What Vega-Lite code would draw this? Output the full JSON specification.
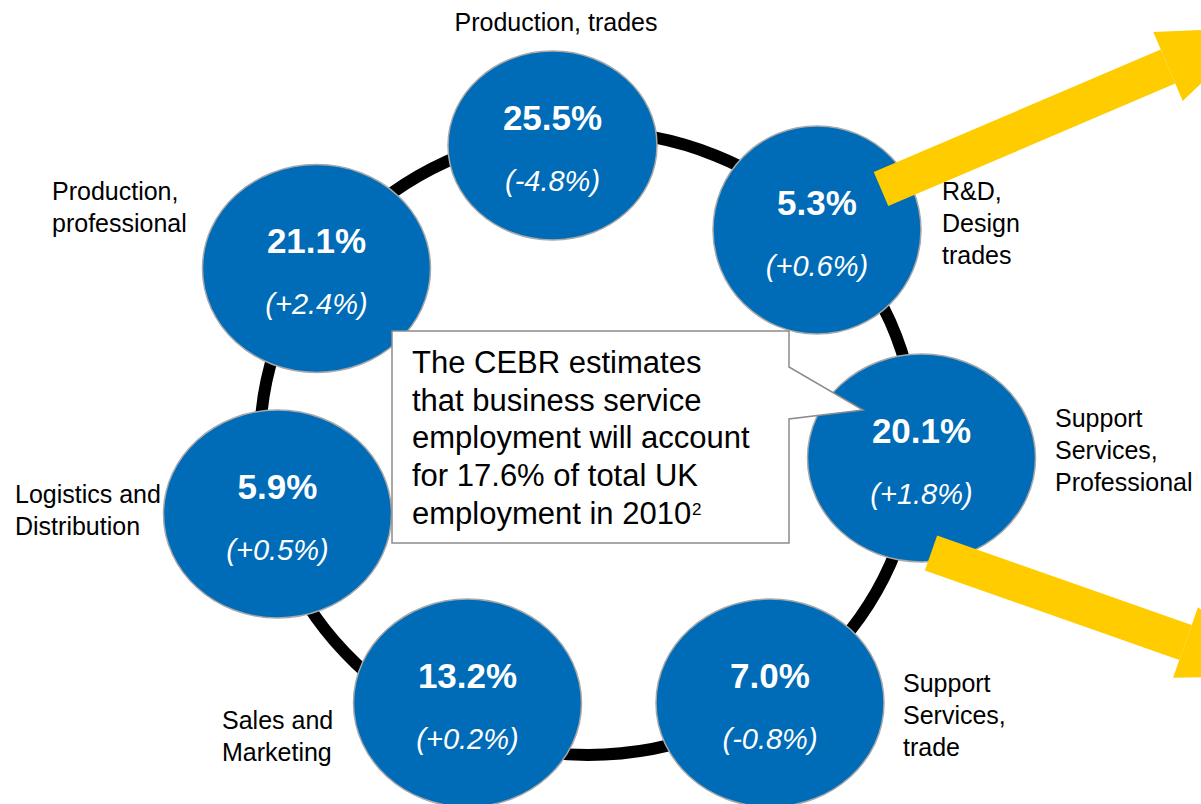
{
  "$schema": "https://vega.github.io/schema/vega-lite/v6.json",
  "width": 1201,
  "height": 804,
  "autosize": {"type": "none"},
  "padding": 0,
  "background": "white",
  "config": {"view": {"stroke": null}, "font": "Liberation Sans"},
  "datasets": {
    "sectors": [
      {"sector": "Production, trades", "share": "25.5%", "change": "(-4.8%)", "x": 552.5, "y": 145.5},
      {"sector": "R&D, Design trades", "share": "5.3%", "change": "(+0.6%)", "x": 817, "y": 230},
      {"sector": "Support Services, Professional", "share": "20.1%", "change": "(+1.8%)", "x": 921.5, "y": 458},
      {"sector": "Support Services, trade", "share": "7.0%", "change": "(-0.8%)", "x": 770, "y": 703},
      {"sector": "Sales and Marketing", "share": "13.2%", "change": "(+0.2%)", "x": 467.5, "y": 703},
      {"sector": "Logistics and Distribution", "share": "5.9%", "change": "(+0.5%)", "x": 277.5, "y": 514},
      {"sector": "Production, professional", "share": "21.1%", "change": "(+2.4%)", "x": 316.5, "y": 268.5}
    ],
    "labels": [
      {"label": "Production, trades", "x": 556, "y": 31, "pos": "top"},
      {"label": "R&D,\nDesign\ntrades", "x": 942, "y": 200, "pos": "side"},
      {"label": "Support\nServices,\nProfessional", "x": 1055, "y": 427, "pos": "side"},
      {"label": "Support\nServices,\ntrade", "x": 903, "y": 692, "pos": "side"},
      {"label": "Sales and\nMarketing", "x": 222, "y": 729, "pos": "side"},
      {"label": "Logistics and\nDistribution", "x": 15, "y": 503, "pos": "side"},
      {"label": "Production,\nprofessional", "x": 52, "y": 200, "pos": "side"}
    ],
    "arrows": [
      {"arrow": "upper", "x": 881, "y": 189, "bx": 1168, "by": 66.5, "heading": -23.1},
      {"arrow": "lower", "x": 931, "y": 553, "bx": 1185.5, "by": 642.5, "heading": 19.4}
    ]
  },
  "encoding": {
    "x": {"field": "x", "type": "quantitative", "scale": {"domain": [0, 1201], "nice": false, "zero": false}, "axis": null},
    "y": {"field": "y", "type": "quantitative", "scale": {"domain": [0, 804], "reverse": true, "nice": false, "zero": false}, "axis": null}
  },
  "layer": [
    {
      "data": {"values": [{"ring": "cycle", "x": 588, "y": 443}]},
      "mark": {"type": "point", "shape": "M -1 0 A 1 0.951 0 1 1 1 0 A 1 0.951 0 1 1 -1 0 Z", "size": 430336, "filled": false, "stroke": "#000000", "strokeWidth": 12, "opacity": 1}
    },
    {
      "data": {"name": "sectors"},
      "transform": [{"filter": "datum.sector !== 'Production, trades' && datum.sector !== 'R&D, Design trades'"}],
      "mark": {"type": "point", "shape": "M -1 0 A 1 0.912 0 1 1 1 0 A 1 0.912 0 1 1 -1 0 Z", "size": 51984, "filled": true, "fill": "#006BB6", "stroke": "#A8A8A8", "strokeWidth": 1.5, "opacity": 1}
    },
    {
      "data": {"name": "sectors"},
      "transform": [{"filter": "datum.sector === 'Production, trades'"}],
      "mark": {"type": "point", "shape": "M -1 0 A 1 0.904 0 1 1 1 0 A 1 0.904 0 1 1 -1 0 Z", "size": 43681, "filled": true, "fill": "#006BB6", "stroke": "#A8A8A8", "strokeWidth": 1.5, "opacity": 1}
    },
    {
      "data": {"name": "sectors"},
      "transform": [{"filter": "datum.sector === 'R&D, Design trades'"}],
      "mark": {"type": "point", "shape": "M -1 0 A 1 1 0 1 1 1 0 A 1 1 0 1 1 -1 0 Z", "size": 43264, "filled": true, "fill": "#006BB6", "stroke": "#A8A8A8", "strokeWidth": 1.5, "opacity": 1}
    },
    {
      "data": {"name": "sectors"},
      "mark": {"type": "text", "align": "center", "baseline": "alphabetic", "dy": -15.5, "fontSize": 35, "fontWeight": "bold", "color": "#FFFFFF"},
      "encoding": {"text": {"field": "share", "type": "nominal"}}
    },
    {
      "data": {"name": "sectors"},
      "mark": {"type": "text", "align": "center", "baseline": "alphabetic", "dy": 45.5, "fontSize": 29, "fontStyle": "italic", "color": "#FFFFFF"},
      "encoding": {"text": {"field": "change", "type": "nominal"}}
    },
    {
      "data": {"name": "labels"},
      "transform": [{"filter": "datum.pos === 'side'"}],
      "mark": {"type": "text", "align": "left", "baseline": "alphabetic", "fontSize": 25, "lineBreak": "\n", "lineHeight": 32, "color": "#000000"},
      "encoding": {"text": {"field": "label", "type": "nominal"}}
    },
    {
      "data": {"name": "labels"},
      "transform": [{"filter": "datum.pos === 'top'"}],
      "mark": {"type": "text", "align": "center", "baseline": "alphabetic", "fontSize": 25, "color": "#000000"},
      "encoding": {"text": {"field": "label", "type": "nominal"}}
    },
    {
      "data": {"name": "arrows"},
      "mark": {"type": "rule", "color": "#FFCC00", "strokeWidth": 37, "strokeCap": "butt"},
      "encoding": {
        "x2": {"field": "bx"},
        "y2": {"field": "by"}
      }
    },
    {
      "data": {"name": "arrows"},
      "mark": {"type": "point", "shape": "M 0 -37.5 L 99 0 L 0 37.5 Z", "size": 4, "filled": true, "fill": "#FFCC00", "strokeWidth": 0, "opacity": 1},
      "encoding": {
        "x": {"field": "bx", "type": "quantitative"},
        "y": {"field": "by", "type": "quantitative"},
        "angle": {"field": "heading", "type": "quantitative", "scale": null}
      }
    },
    {
      "data": {"values": [{"box": "callout", "x": 392, "y": 331}]},
      "mark": {"type": "point", "shape": "M 0 0 L 397 0 L 397 36 L 471 79 L 397 88 L 397 212 L 0 212 Z", "size": 4, "filled": true, "fill": "#FFFFFF", "stroke": "#8C8C8C", "strokeWidth": 1.5, "opacity": 1}
    },
    {
      "data": {"values": [{"note": "The CEBR estimates\nthat business service\nemployment will account\nfor 17.6% of total UK\nemployment in 2010", "x": 412, "y": 373}]},
      "mark": {"type": "text", "align": "left", "baseline": "alphabetic", "fontSize": 31, "lineBreak": "\n", "lineHeight": 37.7, "color": "#000000"},
      "encoding": {"text": {"field": "note", "type": "nominal"}}
    },
    {
      "data": {"values": [{"note": "2", "x": 692, "y": 515}]},
      "mark": {"type": "text", "align": "left", "baseline": "alphabetic", "fontSize": 17, "color": "#000000"},
      "encoding": {"text": {"field": "note", "type": "nominal"}}
    }
  ]
}
